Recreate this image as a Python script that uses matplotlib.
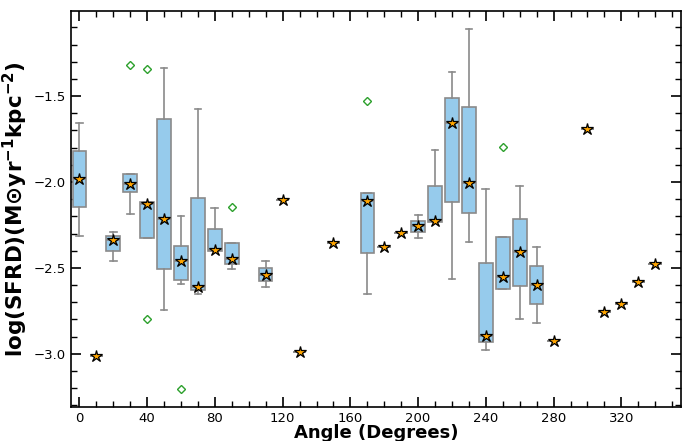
import matplotlib
matplotlib.use('Agg')
import matplotlib.pyplot as plt
from matplotlib.ticker import MultipleLocator

plt.rcParams['mathtext.default'] = 'regular'

# angle bins (degrees)
angles = [0, 10, 20, 30, 40, 50, 60, 70, 80, 90, 110, 120, 130, 150, 170, 180,
          190, 200, 210, 220, 230, 240, 250, 260, 270, 280, 300, 310, 320, 330, 340]

# medians (star markers)
med = [-1.98, -3.01, -2.34, -2.01, -2.13, -2.215, -2.46, -2.61, -2.395, -2.45,
       -2.54, -2.107, -2.99, -2.353, -2.11, -2.38, -2.295, -2.256, -2.227, -1.659,
       -2.008, -2.894, -2.554, -2.409, -2.597, -2.923, -1.692, -2.754, -2.713,
       -2.585, -2.478]

# box edges and whiskers (None = single value, same as median)
q1 = [-2.147, None, -2.40, -2.06, -2.324, -2.508, -2.57, -2.628, -2.401, -2.479,
      -2.576, None, None, None, -2.411, None, None, -2.293, -2.233, -2.114,
      -2.178, -2.934, -2.624, -2.607, -2.711, None, None, None, None, None, None]
q3 = [-1.82, None, -2.314, -1.953, -2.114, -1.636, -2.374, -2.095, -2.275, -2.357,
      -2.498, None, None, None, -2.066, None, None, -2.225, -2.021, -1.514,
      -1.562, -2.469, -2.318, -2.217, -2.49, None, None, None, None, None, None]
whislo = [-2.312, None, -2.459, -2.184, -2.324, -2.748, -2.593, -2.651, -2.401, -2.506,
          -2.614, None, None, None, -2.651, None, None, -2.326, -2.233, -2.566,
          -2.347, -2.977, -2.624, -2.798, -2.822, None, None, None, None, None, None]
whishi = [-1.655, None, -2.293, -1.953, -2.114, -1.339, -2.198, -1.574, -2.153, -2.357,
          -2.461, None, None, None, -2.066, None, None, -2.192, -1.814, -1.362,
          -1.110, -2.043, -2.318, -2.021, -2.378, None, None, None, None, None, None]

# outliers
fliers = {30: [-1.32], 40: [-1.345, -2.797], 60: [-3.203], 90: [-2.143],
          170: [-1.527], 250: [-1.798]}

stats = []
for i, a in enumerate(angles):
    m = med[i]
    stats.append(dict(
        med=m,
        q1=q1[i] if q1[i] is not None else m,
        q3=q3[i] if q3[i] is not None else m,
        whislo=whislo[i] if whislo[i] is not None else m,
        whishi=whishi[i] if whishi[i] is not None else m,
        fliers=fliers.get(a, []),
    ))

fig = plt.figure(figsize=(6.82, 4.41), dpi=100)
ax = fig.add_axes([0.104, 0.077, 0.894, 0.898])

edge = '#8a8a8a'
ax.bxp(stats, positions=angles, widths=8, patch_artist=True, manage_ticks=False,
       boxprops=dict(facecolor='#96cbec', edgecolor=edge, linewidth=1.2),
       whiskerprops=dict(color=edge, linewidth=1.2),
       capprops=dict(color=edge, linewidth=1.2),
       medianprops=dict(color=edge, linewidth=1.2),
       flierprops=dict(marker='D', markersize=4.5, markerfacecolor='none',
                       markeredgecolor='#2ca02c', linestyle='none'))

ax.plot(angles, med, linestyle='none', marker='*', markersize=9,
        markerfacecolor='orange', markeredgecolor='black', markeredgewidth=0.9,
        zorder=5)

ax.set_xlim(-5, 355)
ax.set_ylim(-3.31, -1.005)
ax.xaxis.set_major_locator(MultipleLocator(40))
ax.xaxis.set_minor_locator(MultipleLocator(10))
ax.yaxis.set_major_locator(MultipleLocator(0.5))
ax.yaxis.set_minor_locator(MultipleLocator(0.1))
ax.tick_params(which='both', direction='in', top=True, right=True, labelsize=9.5)
ax.tick_params(which='major', length=7, width=1.2)
ax.tick_params(which='minor', length=4, width=1)
for s in ax.spines.values():
    s.set_linewidth(1.2)

ax.set_xlabel('Angle (Degrees)', fontsize=13, fontweight='bold', labelpad=-1)
ax.set_ylabel(r'log(SFRD)(M$\odot$yr$^{-1}$kpc$^{-2}$)', fontsize=15.5,
              fontweight='bold', labelpad=3, math_fontfamily='cm')

fig.savefig('out.png', dpi=100)
